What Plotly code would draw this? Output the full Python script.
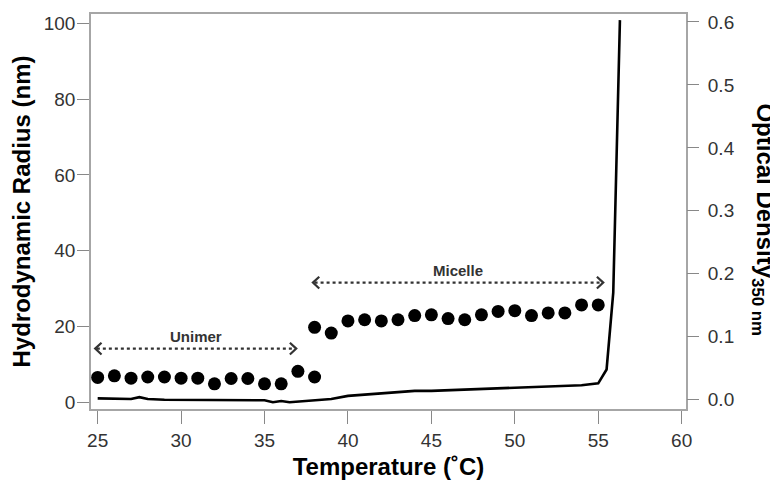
import plotly.graph_objects as go

# ---- data ----
temp_unimer = [25, 26, 27, 28, 29, 30, 31, 32, 33, 34, 35, 36, 37, 38]
rh_unimer = [6.6, 7.0, 6.4, 6.7, 6.7, 6.4, 6.4, 4.9, 6.3, 6.3, 4.9, 4.9, 8.2, 6.7]

temp_micelle = [38, 39, 40, 41, 42, 43, 44, 45, 46, 47, 48, 49, 50, 51, 52, 53, 54, 55]
rh_micelle = [19.8, 18.3, 21.5, 21.8, 21.5, 21.8, 22.9, 23.1, 22.1, 21.8,
              23.1, 24.0, 24.2, 22.9, 23.6, 23.6, 25.7, 25.7]

od_temp = [25, 26, 27, 27.5, 28, 29, 30, 31, 32, 33, 34, 35, 35.5, 36, 36.5, 37, 38, 39,
           40, 41, 42, 43, 44, 45, 46, 47, 48, 49, 50, 51, 52, 53, 54, 55, 55.5, 55.9, 56.3]
od_values = [0.002, 0.002, 0.001, 0.004, 0.001, 0.0, 0.0, 0.0, 0.0, 0.0, 0.0, -0.001, -0.004,
             -0.002, -0.004, -0.003, -0.002, 0.001, 0.006, 0.008, 0.011, 0.013, 0.014, 0.014,
             0.015, 0.016, 0.017, 0.017, 0.018, 0.019, 0.021, 0.021, 0.023, 0.026, 0.048,
             0.17, 0.603]

x_ticks = [25, 30, 35, 40, 45, 50, 55, 60]
y_ticks = [0, 20, 40, 60, 80, 100]
y2_ticks = [0.0, 0.1, 0.2, 0.3, 0.4, 0.5, 0.6]
y2_ticklabels = ["0.0", "0.1", "0.2", "0.3", "0.4", "0.5", "0.6"]

# annotation ranges (phase regions)
unimer_span = [24.85, 36.9]
unimer_level = 14.2
micelle_span = [37.9, 55.3]
micelle_level = 31.6

FONT = "Liberation Sans"
DARK = "#333333"
FRAME = "#a6a6a6"

fig = go.Figure()

# optical density line (right axis)
fig.add_trace(go.Scatter(x=od_temp, y=od_values, mode="lines", yaxis="y2",
                         line=dict(color="black", width=2.6), showlegend=False,
                         hoverinfo="skip"))

# hydrodynamic radius points
fig.add_trace(go.Scatter(x=temp_unimer + temp_micelle, y=rh_unimer + rh_micelle,
                         mode="markers", marker=dict(color="black", size=13),
                         showlegend=False))


def dotted_arrow(span, level, label):
    x0, x1 = span
    fig.add_trace(go.Scatter(x=[x0 + 0.1, x1 - 0.1], y=[level, level], mode="lines",
                             line=dict(color=DARK, width=2.2, dash="dot"),
                             showlegend=False, hoverinfo="skip"))
    dx, dy = 0.38, 1.55
    fig.add_trace(go.Scatter(x=[x0 + dx, x0, x0 + dx, None, x1 - dx, x1, x1 - dx],
                             y=[level + dy, level, level - dy, None, level + dy, level, level - dy],
                             mode="lines", line=dict(color=DARK, width=2.2),
                             showlegend=False, hoverinfo="skip"))
    fig.add_annotation(x=(x0 + x1) / 2, y=level, yshift=12, text=label, showarrow=False,
                       font=dict(family=FONT, size=15, color=DARK, weight="bold"),
                       yanchor="middle")


dotted_arrow(unimer_span, unimer_level, "Unimer")
dotted_arrow(micelle_span, micelle_level, "Micelle")

fig.add_annotation(xref="paper", yref="paper", x=1, y=0.48, xshift=78, textangle=90,
                   text="Optical Density<sub>350 nm</sub>", showarrow=False,
                   font=dict(family=FONT, size=24, color="black", weight="bold"),
                   xanchor="center", yanchor="middle")

# The page body adds an 8px offset, so the figure is sized to the visible area.
fig.update_layout(
    width=770, height=477,
    margin=dict(l=83, r=92, t=6, b=76),
    plot_bgcolor="white", paper_bgcolor="white",
    font=dict(family=FONT, color=DARK),
    xaxis=dict(range=[24.6, 60.26], tickvals=x_ticks, ticks="outside", ticklen=13,
               tickcolor="#888888", tickwidth=1.3, showgrid=False, zeroline=False,
               showline=True, linecolor=FRAME, linewidth=1.6, mirror=True, automargin=False,
               tickfont=dict(size=19, color=DARK, family=FONT),
               title=dict(text="Temperature (˚C)", standoff=9,
                          font=dict(size=24, color="black", family=FONT, weight="bold"))),
    yaxis=dict(range=[-1.74, 102.45], tickvals=y_ticks, ticks="outside", ticklen=12,
               tickcolor="#888888", tickwidth=1.3, showgrid=False, zeroline=False,
               showline=True, linecolor=FRAME, linewidth=1.6, mirror=True, automargin=False,
               ticklabelstandoff=-2,
               tickfont=dict(size=19, color=DARK, family=FONT),
               title=dict(text="Hydrodynamic Radius (nm)", standoff=8,
                          font=dict(size=24, color="black", family=FONT, weight="bold"))),
    yaxis2=dict(range=[-0.0148, 0.6127], tickvals=y2_ticks, ticktext=y2_ticklabels,
                overlaying="y", side="right", ticks="outside", ticklen=12, automargin=False,
                ticklabelstandoff=5,
                tickcolor="#888888", tickwidth=1.3, showgrid=False, zeroline=False,
                showline=False, tickfont=dict(size=19, color=DARK, family=FONT)),
)

fig.write_html("out.html")
